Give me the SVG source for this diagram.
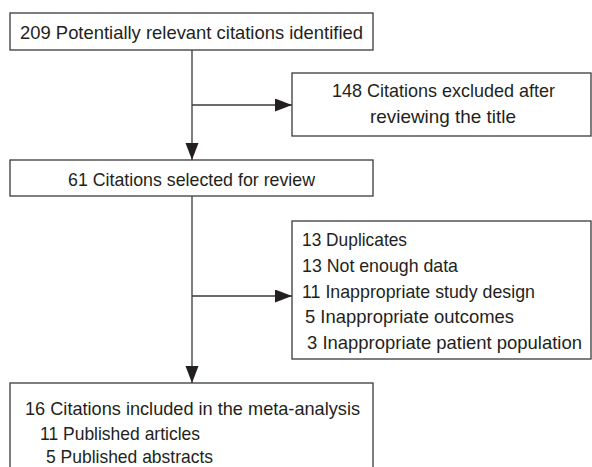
<svg xmlns="http://www.w3.org/2000/svg" width="592" height="467" viewBox="0 0 592 467">
<style>
.box{fill:#fff;stroke:#3a3a3a;stroke-width:1.3}
.t{font-family:"Liberation Sans",Arial,sans-serif;font-size:18.5px;fill:#231f20}
.c{fill:none;stroke:#3a3a3a;stroke-width:1.3}
</style>
<defs>
<marker id="ah" markerUnits="userSpaceOnUse" markerWidth="18" markerHeight="14" refX="17" refY="6.5" orient="auto">
<path d="M0,0 L17,6.5 L0,13 Z" fill="#231f20"/>
</marker>
</defs>
<rect width="592" height="467" fill="#fff"/>
<g id="connectors">
<line class="c" x1="192" y1="50" x2="192" y2="160" marker-end="url(#ah)"/>
<line class="c" x1="192" y1="105" x2="292" y2="105" marker-end="url(#ah)"/>
<line class="c" x1="192" y1="196" x2="192" y2="383" marker-end="url(#ah)"/>
<line class="c" x1="192" y1="296" x2="292" y2="296" marker-end="url(#ah)"/>
</g>
<g id="n1">
<rect class="box" x="10" y="13" width="363" height="37"/>
<text class="t" x="20" y="39" textLength="343" lengthAdjust="spacingAndGlyphs">209 Potentially relevant citations identified</text>
</g>
<g id="n2">
<rect class="box" x="292" y="73" width="299" height="63"/>
<text class="t" x="332" y="97" textLength="223" lengthAdjust="spacingAndGlyphs">148 Citations excluded after</text>
<text class="t" x="370" y="123" textLength="146" lengthAdjust="spacingAndGlyphs">reviewing the title</text>
</g>
<g id="n3">
<rect class="box" x="10" y="160" width="363" height="36"/>
<text class="t" x="68" y="186" textLength="247" lengthAdjust="spacingAndGlyphs">61 Citations selected for review</text>
</g>
<g id="n4">
<rect class="box" x="292" y="221" width="299" height="138"/>
<text class="t" x="302" y="246" textLength="105" lengthAdjust="spacingAndGlyphs">13 Duplicates</text>
<text class="t" x="302" y="272" textLength="156" lengthAdjust="spacingAndGlyphs">13 Not enough data</text>
<text class="t" x="302" y="298" textLength="233" lengthAdjust="spacingAndGlyphs">11 Inappropriate study design</text>
<text class="t" x="305" y="323" textLength="209" lengthAdjust="spacingAndGlyphs">5 Inappropriate outcomes</text>
<text class="t" x="307" y="349" textLength="275" lengthAdjust="spacingAndGlyphs">3 Inappropriate patient population</text>
</g>
<g id="n5">
<rect class="box" x="10" y="383" width="363" height="90"/>
<text class="t" x="25" y="415" textLength="335" lengthAdjust="spacingAndGlyphs">16 Citations included in the meta-analysis</text>
<text class="t" x="40" y="440" textLength="160" lengthAdjust="spacingAndGlyphs">11 Published articles</text>
<text class="t" x="46" y="463" textLength="167" lengthAdjust="spacingAndGlyphs">5 Published abstracts</text>
</g>
</svg>
